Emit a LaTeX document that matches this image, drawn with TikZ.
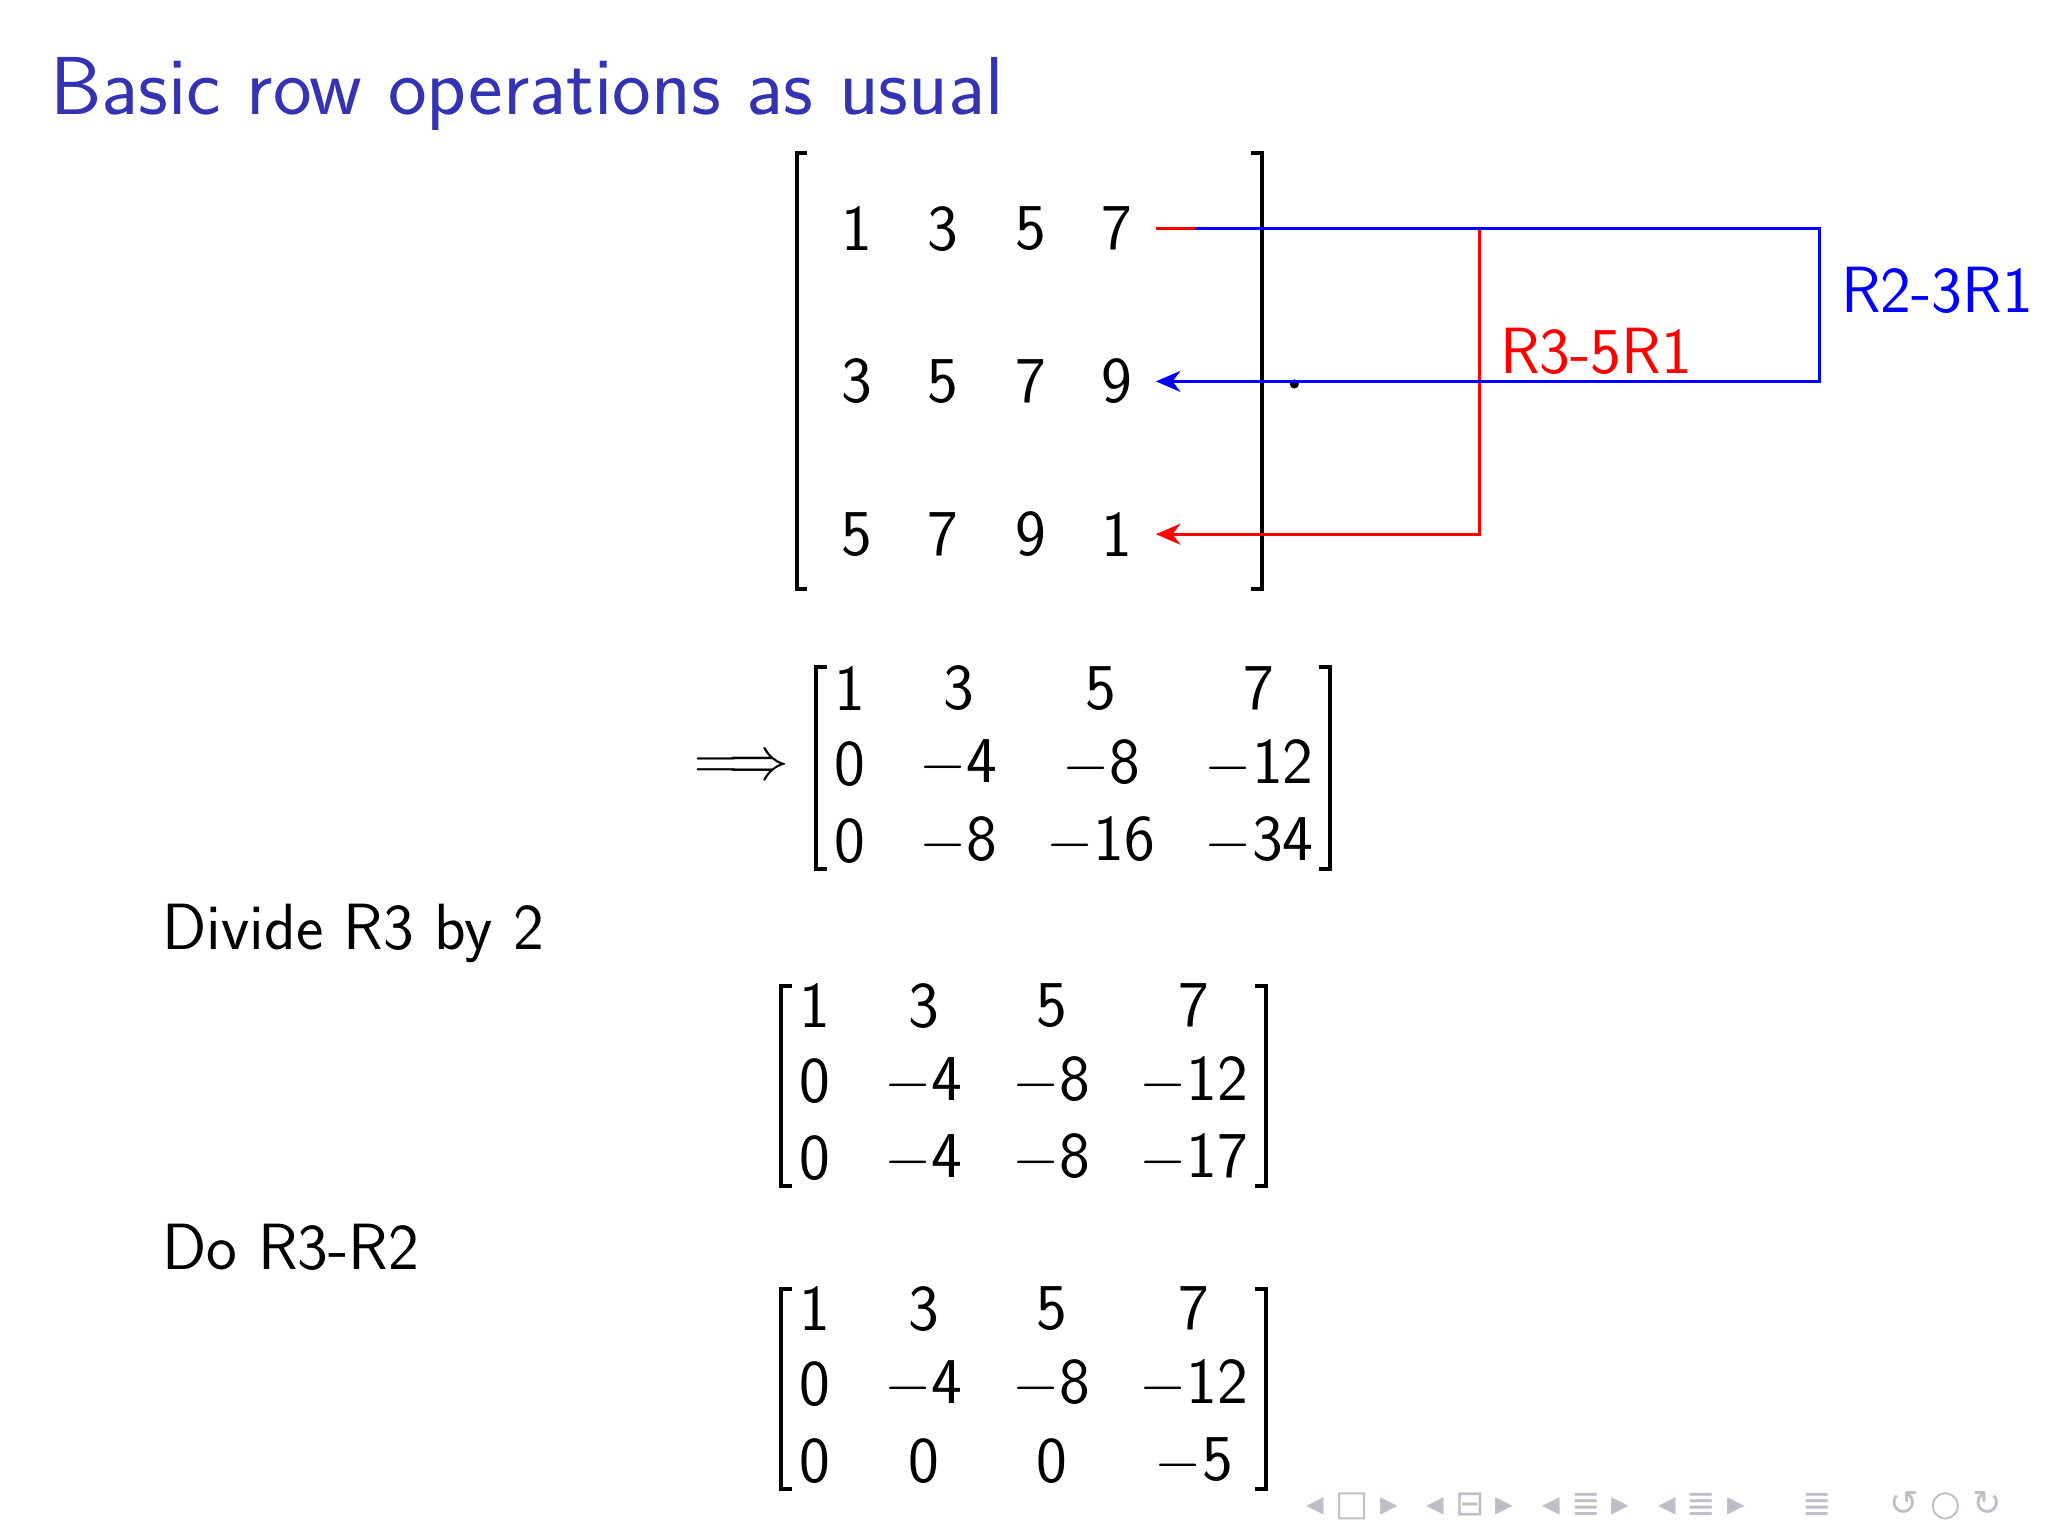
\documentclass[tikz,border=0pt]{standalone}
\usepackage{fontspec}
\newfontfamily\symf{DejaVu Sans}
\usetikzlibrary{arrows.meta}
\definecolor{titleblue}{RGB}{51,51,179}
\definecolor{navgray}{RGB}{190,190,200}
\begin{document}
\begin{tikzpicture}[x=0.01306cm,y=-0.01306cm,
  every node/.style={font=\sffamily\fontsize{18.6}{22}\selectfont, inner sep=0pt},
  brk/.style={line width=1.1pt},
  conn/.style={line width=0.8pt,-{Stealth[length=7pt,width=6pt]}},
  ent/.style={anchor=center}]
\useasboundingbox[fill=white] (0,0) rectangle (1568,1176);
\node[anchor=west,text=titleblue,font=\sffamily\fontsize{23.4}{28}\selectfont] (title) at (38,72) {Basic row operations as usual};
% matrix 1
\draw[brk] (618,117) -- (610,117) -- (610,451) -- (618,451);
\draw[brk] (958,117) -- (966,117) -- (966,451) -- (958,451);
\node (a11) at (656,175) {1}; \node (a12) at (722,175) {3}; \node (a13) at (789,175) {5}; \node (a14) at (855,175) {7};
\node (a21) at (656,292) {3}; \node (a22) at (722,292) {5}; \node (a23) at (789,292) {7}; \node (a24) at (855,292) {9};
\node (a31) at (656,409) {5}; \node (a32) at (722,409) {7}; \node (a33) at (789,409) {9}; \node (a34) at (855,409) {1};
\fill (991,294) circle (1.3pt);
\coordinate (r1) at (885,175); \coordinate (r2) at (885,292); \coordinate (r3) at (885,409);
\coordinate (bs) at (915,175); \coordinate (bc1) at (1393,175); \coordinate (bc2) at (1393,292);
\coordinate (rc1) at (1133,175); \coordinate (rc2) at (1133,409);
\draw[conn,red] (r1) -- (rc1) -- (rc2) -- (r3);
\draw[conn,blue] (bs) -- (bc1) -- (bc2) -- (r2);
\node[text=blue] (lb) at (1483,222) {R2-3R1};
\node[text=red] (lr) at (1222,269) {R3-5R1};
% matrix 2
\node[font=\sffamily\fontsize{17}{20}\selectfont] (impl) at (568,588) {$\Longrightarrow$};
\draw[brk] (633,511) -- (625,511) -- (625,665) -- (633,665);
\draw[brk] (1010,511) -- (1018,511) -- (1018,665) -- (1010,665);
\node (b11) at (651,527) {1}; \node (b12) at (734,527) {3}; \node (b13) at (843,527) {5}; \node (b14) at (964,527) {7};
\node (b21) at (651,585) {0}; \node (b22) at (734,585) {$-$4}; \node (b23) at (843,585) {$-$8}; \node (b24) at (964,585) {$-$12};
\node (b31) at (651,644) {0}; \node (b32) at (734,644) {$-$8}; \node (b33) at (843,644) {$-$16}; \node (b34) at (964,644) {$-$34};
\node[anchor=west] (t1) at (124,715) {Divide R3 by 2};
% matrix 3
\draw[brk] (606,755) -- (598,755) -- (598,908) -- (606,908);
\draw[brk] (961,755) -- (969,755) -- (969,908) -- (961,908);
\node (c11) at (624,770) {1}; \node (c12) at (707,770) {3}; \node (c13) at (805,770) {5}; \node (c14) at (914,770) {7};
\node (c21) at (624,828) {0}; \node (c22) at (707,828) {$-$4}; \node (c23) at (805,828) {$-$8}; \node (c24) at (914,828) {$-$12};
\node (c31) at (624,887) {0}; \node (c32) at (707,887) {$-$4}; \node (c33) at (805,887) {$-$8}; \node (c34) at (914,887) {$-$17};
\node[anchor=west] (t2) at (124,955) {Do R3-R2};
% matrix 4
\draw[brk] (606,987) -- (598,987) -- (598,1140) -- (606,1140);
\draw[brk] (961,987) -- (969,987) -- (969,1140) -- (961,1140);
\node (d11) at (624,1002) {1}; \node (d12) at (707,1002) {3}; \node (d13) at (805,1002) {5}; \node (d14) at (914,1002) {7};
\node (d21) at (624,1060) {0}; \node (d22) at (707,1060) {$-$4}; \node (d23) at (805,1060) {$-$8}; \node (d24) at (914,1060) {$-$12};
\node (d31) at (624,1119) {0}; \node (d32) at (707,1119) {0}; \node (d33) at (805,1119) {0}; \node (d34) at (914,1119) {$-$5};
% navigation
\node[anchor=west,text=navgray,font=\symf\fontsize{10}{11}\selectfont] (nav) at (1000,1153)
 {◂ □ ▸ \enspace ◂ ⊟ ▸ \enspace ◂ ≣ ▸ \enspace ◂ ≣ ▸ \quad\ ≣ \quad\ ↺ ○ ↻};
\end{tikzpicture}
\end{document}
